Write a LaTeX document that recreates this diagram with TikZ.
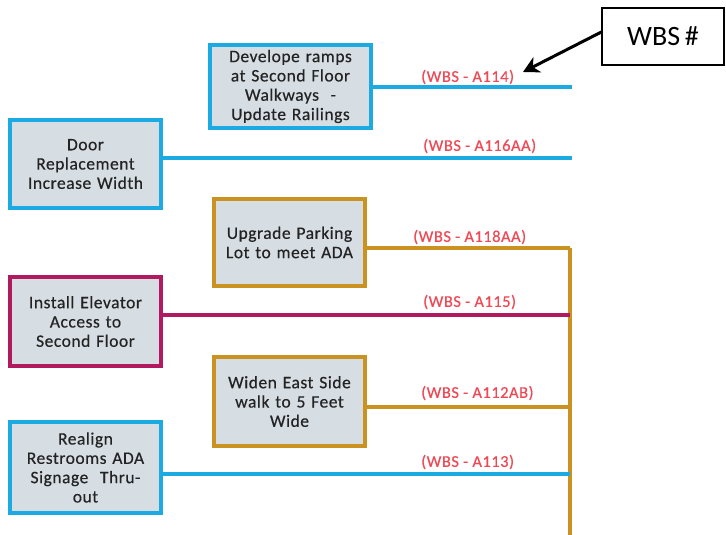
\documentclass[tikz,border=0pt]{standalone}
\usepackage{fontspec}
\setmainfont{Carlito}
\usetikzlibrary{arrows.meta}
\definecolor{cblue}{RGB}{28,170,226}
\definecolor{cgold}{RGB}{202,146,32}
\definecolor{cmag}{RGB}{178,26,96}
\definecolor{cfill}{RGB}{214,222,228}
\definecolor{cred}{RGB}{240,72,84}
\definecolor{ctext}{RGB}{35,35,35}
\tikzset{
  task/.style={draw, line width=4pt, fill=cfill, rectangle, inner sep=0pt,
    minimum width=151pt, minimum height=88pt, align=center, text width=148pt,
    text=ctext, font=\fontsize{17.5}{19.3}\selectfont\addfontfeatures{LetterSpace=3,FakeBold=0.4}},
  wbslabel/.style={text=cred, font=\fontsize{16.5}{17}\selectfont\addfontfeatures{LetterSpace=3,FakeBold=0.4}, inner sep=0pt},
  conn/.style={line width=4pt},
}
\begin{document}
\begin{tikzpicture}[x=1pt,y=-1pt]
\useasboundingbox (0,0) rectangle (726,535);
% task boxes
\node[task, draw=cblue, minimum width=161pt, minimum height=83pt] (b1) at (290.5,86.5) {Develope ramps\\at Second Floor\\Walkways\ \ -\\Update Railings};
\node[task, draw=cblue, minimum height=88pt] (b2) at (85.5,164) {Door\\Replacement\\Increase Width};
\node[task, draw=cgold, minimum height=87pt] (b3) at (289.5,242.5) {Upgrade Parking\\Lot to meet ADA};
\node[task, draw=cmag, minimum height=89pt] (b4) at (85.5,321.5) {Install Elevator\\Access to\\Second Floor};
\node[task, draw=cgold, minimum height=89pt] (b5) at (289.5,401.5) {Widen East Side\\walk to 5 Feet\\Wide};
\node[task, draw=cblue, minimum height=91pt] (b6) at (85.5,467.5) {Realign\\Restrooms ADA\\Signage\ \ Thru-\\out};
% connector ends
\coordinate (e1) at (572,87);
\coordinate (e2) at (572,158);
\coordinate (e3) at (570,248);
\coordinate (e4) at (570,315);
\coordinate (e5) at (570,407);
\coordinate (e6) at (570,474);
\coordinate (bot) at (570,535);
% connectors
\draw[conn, cgold, line width=3.5pt] (e3) -- (bot);
\draw[conn, cblue] (b1.east |- e1) -- (e1);
\draw[conn, cblue] (b2.east |- e2) -- (e2);
\draw[conn, cgold, line width=3.5pt] (b3.east |- e3) -- (e3);
\draw[conn, cmag, line width=3.5pt] (b4.east |- e4) -- (e4);
\draw[conn, cgold, line width=3.5pt] (b5.east |- e5) -- (e5);
\draw[conn, cblue] (b6.east |- e6) -- (e6);
% labels
\node[wbslabel, anchor=west] (l1) at (421,77) {(WBS - A114)};
\node[wbslabel, anchor=west] (l2) at (423,146) {(WBS - A116AA)};
\node[wbslabel, anchor=west] (l3) at (413,237) {(WBS - A118AA)};
\node[wbslabel, anchor=west] (l4) at (423,302) {(WBS - A115)};
\node[wbslabel, anchor=west] (l5) at (421,393) {(WBS - A112AB)};
\node[wbslabel, anchor=west] (l6) at (421,462) {(WBS - A113)};
% WBS # callout
\node[draw=black, line width=1.2pt, minimum width=122pt, minimum height=57pt, inner sep=0pt,
  font=\fontsize{28}{30}\selectfont] (wbs) at (663,36.5) {WBS\,\#};
\coordinate (tip) at (523,72);
\draw[line width=3pt, -{Stealth[length=16pt,width=17pt,inset=5pt]}] (wbs.west |- 0,32) -- (tip);
\end{tikzpicture}
\end{document}
